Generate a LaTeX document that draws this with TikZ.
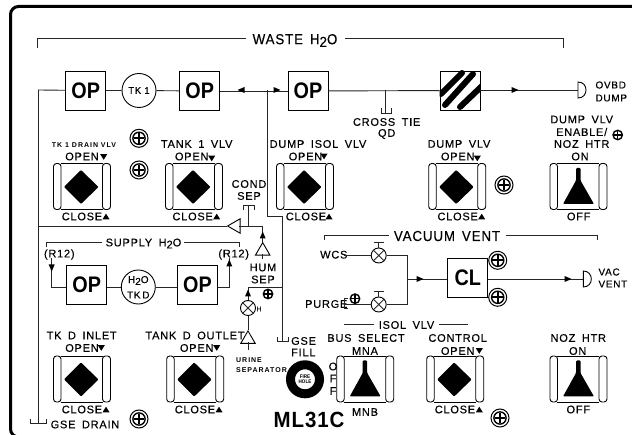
\documentclass[tikz,border=0pt]{standalone}
\usepackage{fontspec}
\usetikzlibrary{shapes.geometric,calc}
\setmainfont{Liberation Sans}
\newfontfamily\labf[LetterSpace=7,FakeBold=0.25,WordSpace=1.7]{Liberation Sans}
\newfontfamily\bigf[LetterSpace=6,FakeStretch=0.92,FakeBold=0.25,WordSpace=1.5]{Liberation Sans}
\newfontfamily\smf[LetterSpace=14]{Liberation Sans Bold}
\newfontfamily\bdf[FakeStretch=0.88]{Liberation Sans Bold}
\newfontfamily\mlf[LetterSpace=4,FakeStretch=0.93]{Liberation Sans Bold}
\newcommand{\tsub}[1]{\raisebox{-0.35ex}{#1}}
\tikzset{
  wire/.style={line width=0.9pt,black!85},
  lab/.style={inner sep=0pt,font=\labf\fontsize{11}{12}\selectfont},
  labl/.style={lab,anchor=west},
  big/.style={inner sep=0pt,font=\bigf\fontsize{14.5}{16}\selectfont},
  tiny/.style={inner sep=0pt,font=\smf\fontsize{7}{8}\selectfont},
  opbox/.style={draw,line width=0.9pt,minimum width=40pt,minimum height=39pt,inner sep=0pt,font=\bdf\fontsize{22.5}{24}\selectfont},
  tank/.style={draw,circle,line width=0.9pt,minimum size=34pt,inner sep=0pt},
  valve/.style={draw,circle,line width=0.9pt,minimum size=15pt,inner sep=0pt},
  tri/.style={draw,isosceles triangle,isosceles triangle apex angle=60,line width=0.9pt,minimum height=12.5pt,inner sep=0pt,fill=white,anchor=apex},
}
\newcommand{\hd}[3]{\fill (#2,#3) ++(#1*3.5,0) -- ++(-#1*7,-3) -- ++(0,6) -- cycle;}
\newcommand{\vd}[3]{\fill (#2,#3) ++(0,#1*3.5) -- ++(-3,-#1*7) -- ++(6,0) -- cycle;}
\newcommand{\tdn}[2]{\fill (#1-3.5,#2-2.8) -- (#1+3.5,#2-2.8) -- (#1,#2+2.8) -- cycle;}
\newcommand{\tup}[2]{\fill (#1-3.5,#2+2.8) -- (#1+3.5,#2+2.8) -- (#1,#2-2.8) -- cycle;}
\newcommand{\swbody}[2]{%
  \draw[line width=0.9pt] (#1+7,#2) -- (#1+49,#2) (#1+7,#2+46) -- (#1+49,#2+46);
  \draw[line width=0.9pt,rounded corners=3pt,fill=white] (#1,#2) rectangle (#1+7.5,#2+46);
  \draw[line width=0.9pt,rounded corners=3pt,fill=white] (#1+49,#2) rectangle (#1+57,#2+46);
}
\newcommand{\swdia}[2]{\swbody{#1}{#2}\fill[rounded corners=1pt] (#1+27.5,#2+6.5) -- (#1+45,#2+23.5) -- (#1+27.5,#2+40.5) -- (#1+10.5,#2+23.5) -- cycle;}
\newcommand{\swfl}[2]{\swbody{#1}{#2}\fill[rounded corners=1pt] (#1+26,#2+4.5) -- (#1+30.5,#2+4.5) -- (#1+30.5,#2+17) -- (#1+44,#2+40.5) -- (#1+13,#2+40.5) -- (#1+26,#2+17) -- cycle;}
\newcommand{\screw}[3]{%
  \draw[line width=1pt] (#1,#2) circle (#3);
  \draw[line width=1.4pt] (#1,#2) circle (#3*0.68);
  \draw[line width=1.6pt] (#1-#3*0.6,#2) -- (#1+#3*0.6,#2) (#1,#2-#3*0.6) -- (#1,#2+#3*0.6);
}
\newcommand{\scrsm}[2]{%
  \draw[line width=1.4pt] (#1,#2) circle (4.7);
  \draw[line width=1.4pt] (#1-4,#2) -- (#1+4,#2) (#1,#2-4) -- (#1,#2+4);
}
\newcommand{\dcap}[2]{\draw[line width=0.9pt] (#1,#2-8) .. controls (#1+10.7,#2-8) and (#1+10.7,#2+8) .. (#1,#2+8) -- cycle;}
\begin{document}
\begin{tikzpicture}[x=1pt,y=-1pt]
\useasboundingbox (0,0) rectangle (632,435);
\fill[white] (0,0) rectangle (632,435);
\draw[line width=3pt,rounded corners=8pt] (640,6.5) -- (10.5,6.5) -- (10.5,437) -- (640,437);

% --- section brackets
\node[big] (waste) at (295,40.5) {WASTE H\tsub{2}O};
\draw[wire] (37.5,48) -- (37.5,38.5) -- (246,38.5);
\draw[wire] (345,38.5) -- (563,38.5) -- (563,48);

% --- top row
\node[opbox] (op1) at (85.7,90.5) {OP};
\node[tank] (tk1) at (139,90.5) {\labf\fontsize{9.5}{10}\selectfont TK\,\,1};
\node[opbox] (op2) at (199.7,91) {OP};
\node[opbox] (op3) at (308,91) {OP};
\node[draw,line width=0.9pt,minimum width=40pt,minimum height=39pt,inner sep=0pt] (hatch) at (460,90.5) {};
\begin{scope}
\clip (hatch.south west) rectangle (hatch.north east);
\draw[line width=6pt,line cap=round] (441,94) -- (462,73);
\draw[line width=6pt,line cap=round] (445,105) -- (473,74);
\draw[line width=6pt,line cap=round] (460,107) -- (482,86);
\end{scope}
\coordinate (bl) at (38.5,423);
\coordinate (tl) at (38.5,90);
\coordinate (ju) at (267.5,90);
\draw[wire] (bl) -- (tl) -- (op1);
\draw[wire] (op1) -- (tk1) -- (op2);
\draw[wire] (op2) -- (op3);
\hd{-1}{241}{90}
\hd{1}{277}{90}
\draw[wire] (op3) -- (hatch);
\coordinate (ovbd) at (578,90);
\draw[wire] (hatch.east |- ovbd) -- (ovbd);
\hd{1}{515}{90}
\dcap{578}{90}
\node[labl,font=\labf\fontsize{10}{12}\selectfont] (ovt1) at (595.3,85) {OVBD};
\node[labl,font=\labf\fontsize{10}{12}\selectfont] (ovt2) at (595.3,98) {DUMP};
% cross tie
\coordinate (ct) at (385.7,90);
\coordinate (ct2) at (385.7,113);
\draw[wire] (ct) -- (ct2);
\draw[wire] (381,108.5) -- (381,113) -- (391,113) -- (391,108.5);
\node[lab] (cr1) at (386.7,122) {CROSS TIE};
\node[lab] (cr2) at (386.7,134) {QD};
% GSE drain cap
\draw[wire] (30,419) -- (30,423) -- (46,423) -- (46,419);
\node[lab] (gd) at (85,424.5) {GSE DRAIN};
% GSE fill line
\coordinate (f1) at (267.5,216);
\coordinate (f2) at (282.5,216);
\coordinate (f3) at (282.5,341.5);
\draw[wire] (ju) -- (f1) -- (f2) -- (f3);
\draw[wire] (277,337) -- (277,341.5) -- (288,341.5) -- (288,337);
\node[labl] (gf1) at (291,341) {GSE};
\node[labl] (gf2) at (291,352.5) {FILL};

% --- upper switches
\swdia{53.5}{163.5}
\node[tiny] (t1) at (84,145) {TK 1 DRAIN VLV};
\node[lab] (o1) at (82,156.5) {OPEN}; \tdn{103.7}{157}
\node[lab] (c1) at (82,216.5) {CLOSE}; \tup{106}{216.5}
\swdia{165.5}{163.5}
\node[lab] (t2) at (196.7,144) {TANK 1 VLV};
\node[lab] (o2) at (191.7,156.5) {OPEN}; \tdn{211.7}{158.5}
\node[lab] (c2) at (192.7,216.5) {CLOSE}; \tup{216.7}{216.5}
\swdia{276.5}{163.5}
\node[lab] (t3) at (318,144) {DUMP ISOL VLV};
\node[lab] (o3) at (305.5,156.5) {OPEN}; \tdn{324}{156.5}
\node[lab] (c3) at (306,216.5) {CLOSE}; \tup{329}{216.5}
\swdia{428.7}{163.5}
\node[lab] (t4) at (459,144) {DUMP VLV};
\node[lab] (o4) at (457.7,156.5) {OPEN}; \tdn{477.3}{158.5}
\node[lab] (c4) at (457.7,216.5) {CLOSE}; \tup{481.7}{216.5}
\swfl{550}{163.5}
\node[lab] (t5a) at (581.7,119.5) {DUMP VLV};
\node[lab] (t5b) at (581.7,132) {ENABLE/};
\node[lab] (t5c) at (581.7,144) {NOZ HTR};
\node[lab] (t5d) at (580,156.5) {ON};
\node[lab] (c5) at (578.7,216.5) {OFF};

% --- cond sep / hum sep
\node[lab] (cs1) at (249,184) {COND};
\node[lab] (cs2) at (249,196) {SEP};
\draw[wire] (243,210) -- (243,205) -- (254,205) -- (254,210);
\coordinate (csj) at (248.5,226);
\draw[wire] (248.5,205) -- (csj);
\node[tri,shape border rotate=180] (tric) at (226.7,226) {};
\draw[wire] (38.5,226) -- (tric.apex);
\coordinate (hj) at (262.7,226);
\draw[wire] (239,226) -- (hj);
\node[tri,shape border rotate=90] (trih) at (262.7,241.7) {};
\draw[wire] (hj) -- (trih.apex);
\vd{-1}{262.7}{235}
\coordinate (trihb) at (262.7,259);
\draw[wire] (262.7,254) -- (trihb);
\node[lab] (hs1) at (263,267.5) {HUM};
\node[lab] (hs2) at (263,279.5) {SEP};
\scrsm{268}{294}

% --- urine line
\coordinate (ua) at (248,287);
\draw[wire] (ua) -- (f2 |- ua);
\node[valve] (vu) at (248,308) {};
\draw[wire] (vu.north west) -- (vu.south east) (vu.north east) -- (vu.south west);
\draw[wire] (ua) -- (vu);
\vd{-1}{248}{293}
\node[inner sep=0pt,font=\labf\fontsize{7}{8}\selectfont] (vh) at (259,309) {H};
\node[tri,shape border rotate=90] (triu) at (248,330) {};
\draw[wire] (vu) -- (triu.apex);
\draw[wire] (248,342) -- (248,350);
\node[tiny,anchor=west] (us1) at (236,360) {URINE};
\node[tiny,anchor=west] (us2) at (236,370) {SEPARATOR};

% --- supply
\node[lab] (sup) at (143.5,243.5) {SUPPLY H\tsub{2}O};
\draw[wire] (46,247.3) -- (46,242) -- (101.7,242);
\draw[wire] (184,242) -- (239,242) -- (239,247.3);
\node[lab] (r1) at (59.3,254.5) {(R12)};
\node[lab] (r2) at (233.7,254.5) {(R12)};
\node[opbox] (op4) at (86.7,284.7) {OP};
\node[tank] (tkd) at (138.3,287) {};
\node[inner sep=0pt,font=\labf\fontsize{10}{10}\selectfont] (tkd1) at (138.3,280.5) {H\tsub{2}O};
\node[inner sep=0pt,font=\labf\fontsize{10}{10}\selectfont] (tkd2) at (138.3,295) {TK\,D};
\node[opbox] (op5) at (197.5,285) {OP};
\coordinate (sl1) at (51.7,258);
\coordinate (sl2) at (51.7,287);
\draw[wire] (sl1) -- (sl2) -- (op4.west |- sl2);
\vd{1}{51.7}{268}
\draw[wire] (op4.east |- sl2) -- (tkd) -- (op5.west |- tkd);
\coordinate (sr1) at (229.3,287);
\coordinate (sr2) at (229.3,258);
\draw[wire] (op5.east |- sr1) -- (sr1) -- (sr2);
\vd{-1}{229.3}{263}

% --- lower switches
\swdia{53.5}{356}
\node[lab] (t6) at (81.7,335.5) {TK D INLET};
\node[lab] (o6) at (82,348) {OPEN}; \tdn{101.3}{348}
\node[lab] (c6) at (82,409.5) {CLOSE}; \tup{106}{409.5}
\swdia{166.7}{356}
\node[lab] (t7) at (195,335.5) {TANK D OUTLET};
\node[lab] (o7) at (196.7,348) {OPEN}; \tdn{216.7}{348}
\node[lab] (c7) at (195,409.5) {CLOSE}; \tup{219}{409.5}
\swfl{336.7}{356}
\node[lab] (t8) at (366,338) {BUS SELECT};
\node[lab] (o8) at (365,351) {MNA};
\node[lab] (c8) at (365,412) {MNB};
\node[lab] (of1) at (333,366.5) {O};
\node[lab] (of2) at (333,378.5) {F};
\node[lab] (of3) at (333,391) {F};
\swdia{426.7}{356}
\node[lab] (t9) at (457.7,338) {CONTROL};
\node[lab] (o9) at (457.7,351) {OPEN}; \tdn{479.3}{351}
\node[lab] (c9) at (455,409.5) {CLOSE}; \tup{479.3}{409.5}
\swfl{550}{356}
\node[lab] (t10) at (578.3,338) {NOZ HTR};
\node[lab] (o10) at (577.7,351) {ON};
\node[lab] (c10) at (578.3,409.5) {OFF};
% isol
\node[lab] (iso) at (406.5,325) {ISOL VLV};
\draw[wire] (344.3,324.7) -- (374.3,324.7);
\draw[wire] (439.3,324.7) -- (467.7,324.7);

% fire hole
\node[draw,circle,line width=9pt,minimum size=29pt,inner sep=0pt] (fh) at (305,379.3) {};
\node[inner sep=0pt,font=\bdf\fontsize{5.2}{5.5}\selectfont,align=center] (fht) at (305,379.3) {FIRE\\HOLE};
\node[inner sep=0pt,font=\mlf\fontsize{22}{24}\selectfont] (ml) at (309,420) {ML31C};

% --- vacuum vent
\node[big] (vv) at (447,236) {VACUUM VENT};
\draw[wire] (324.3,240) -- (324.3,235.7) -- (388.7,235.7);
\draw[wire] (506,235.7) -- (597.7,235.7) -- (597.7,240);
\node[labl] (wcs) at (320,254.7) {WCS};
\node[labl] (pg) at (305,304) {PURGE};
\node[valve] (v1) at (378.7,255.5) {};
\node[valve] (v2) at (378.7,304.5) {};
\foreach \v in {v1,v2}{
  \draw[wire] (\v.north west) -- (\v.south east) (\v.north east) -- (\v.south west);
  \draw[wire] (\v.north) -- ++(0,-5) ++(-5,0) -- ++(10,0);
}
\coordinate (vj1) at (407,255.5);
\coordinate (vj2) at (407,304.5);
\coordinate (vjm) at (407,279);
\coordinate (wcsr) at (344.3,255.5);
\coordinate (pgl) at (344.5,304.5);
\draw[wire] (wcsr) -- (v1) -- (vj1) -- (vj2) -- (v2) -- (pgl);
\draw[wire] (348,298) -- (344.5,298) -- (344.5,308.7) -- (348,308.7);
\scrsm{355}{298.7}
\node[opbox] (cl) at (467.7,277.5) {CL};
\draw[wire] (vjm) -- (cl.west |- vjm);
\hd{1}{420}{279}
\coordinate (vac) at (583.3,279);
\draw[wire] (cl.east |- vac) -- (vac);
\hd{1}{568}{279}
\dcap{583.3}{279}
\node[labl,font=\labf\fontsize{10}{12}\selectfont] (vt1) at (598.3,272) {VAC};
\node[labl,font=\labf\fontsize{10}{12}\selectfont] (vt2) at (598.3,284) {VENT};

% --- screws
\screw{139}{138.3}{9}
\screw{139}{170}{9}
\screw{504}{185}{9}
\scrsm{617.7}{135}
\screw{139}{419}{9}
\screw{497.7}{260.3}{9}
\screw{497.7}{297.3}{9}
\screw{500}{418}{9}
\end{tikzpicture}
\end{document}
